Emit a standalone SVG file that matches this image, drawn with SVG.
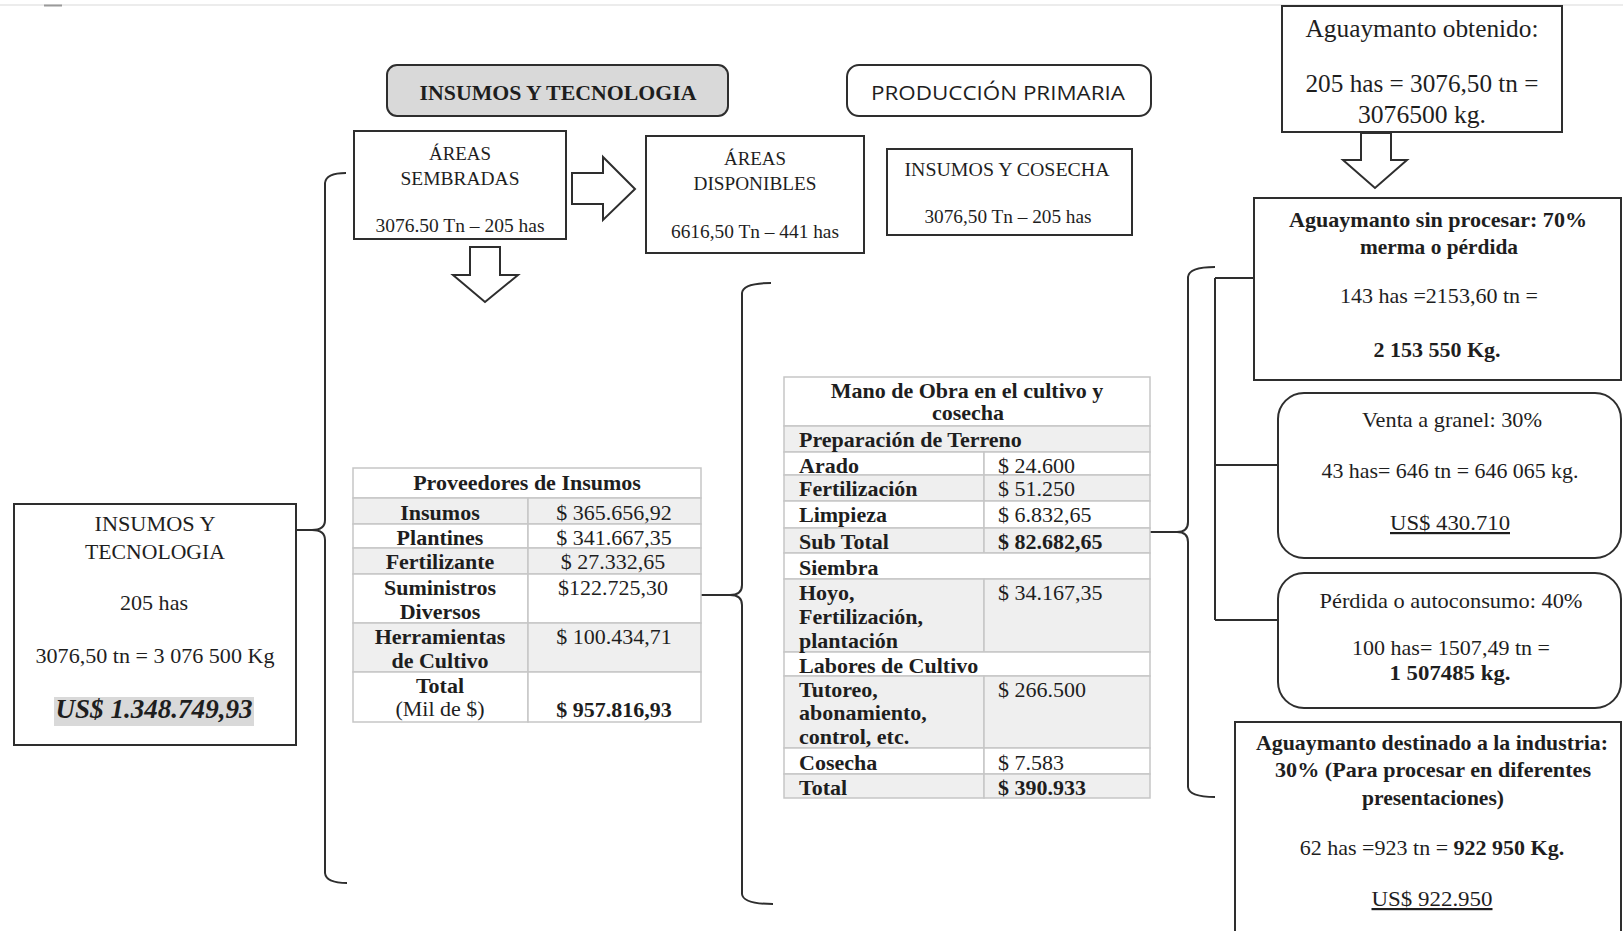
<svg xmlns="http://www.w3.org/2000/svg" width="1623" height="931" viewBox="0 0 1623 931">
<style>
.s{font-family:"Liberation Serif","Times New Roman",serif;fill:#1e1e1e;}
.b{font-weight:bold;}
.m{text-anchor:middle;}
.box{fill:#fff;stroke:#2e2e2e;stroke-width:2;}
.arr{fill:#fff;stroke:#2e2e2e;stroke-width:2;stroke-linejoin:miter;}
.ln{fill:none;stroke:#2e2e2e;stroke-width:2;}
.c{stroke:#c6c6c6;stroke-width:1.5;fill:#fff;}
.g{fill:#efefef;}
.u{text-decoration:underline;}
</style>
<rect x="0" y="0" width="1623" height="931" fill="#fff"/>
<line x1="0" y1="5" x2="1623" y2="5" stroke="#e6e6e6" stroke-width="1.5"/>
<line x1="44" y1="5.5" x2="62" y2="5.5" stroke="#9a9a9a" stroke-width="2"/>

<g id="connectors">
<path class="arr" d="M572,173 L603,173 L603,157 L635,189 L603,220 L603,204 L572,204 Z"/>
<path class="arr" d="M470,247 L500,247 L500,275 L518,275 L485,302 L453,275 L470,275 Z"/>
<path class="arr" d="M1361,133 L1391,133 L1391,160 L1407,160 L1375,188 L1343,160 L1361,160 Z"/>
<path class="ln" d="M346,173 Q326,173 325,183 L325,520 Q325,530 312,530 Q325,530 325,540 L325,873 Q326,883 347,883"/>
<path class="ln" d="M296,530 L312,530"/>
<path class="ln" d="M771,283 Q743,283 742,293 L742,585 Q742,595 730,595 Q742,595 742,605 L742,894 Q743,904 773,904"/>
<path class="ln" d="M701,595 L730,595"/>
<path class="ln" d="M1215,267 Q1189,267 1188,277 L1188,522 Q1188,532 1177,532 Q1188,532 1188,542 L1188,787 Q1189,797 1215,797"/>
<path class="ln" d="M1150,532 L1177,532"/>
<path class="ln" d="M1215,278 V620 M1215,278 H1254 M1215,465 H1278 M1215,620 H1278"/>
</g>

<g id="hdr-insumos">
<rect x="387" y="65" width="341" height="51" rx="10" fill="#d9d9d9" stroke="#2e2e2e" stroke-width="2"/>
<text class="s b m" x="558" y="100" font-size="20.5" textLength="277" lengthAdjust="spacingAndGlyphs">INSUMOS  Y  TECNOLOGIA</text>
</g>

<g id="hdr-produccion">
<rect class="box" x="847" y="65" width="304" height="51" rx="12"/>
<text class="m" x="998" y="100" font-family="'Open Sans','Noto Sans',sans-serif" font-size="20" fill="#1e1e1e" textLength="254" lengthAdjust="spacingAndGlyphs">PRODUCCIÓN PRIMARIA</text>
</g>

<g id="areas-sembradas">
<rect class="box" x="354" y="131" width="212" height="108"/>
<text class="s m" x="460" y="160" font-size="19.5" textLength="62" lengthAdjust="spacingAndGlyphs">ÁREAS</text>
<text class="s m" x="460" y="185" font-size="19.5" textLength="119" lengthAdjust="spacingAndGlyphs">SEMBRADAS</text>
<text class="s m" x="460" y="232" font-size="19.5" textLength="169" lengthAdjust="spacingAndGlyphs">3076.50 Tn – 205 has</text>
</g>

<g id="areas-disponibles">
<rect class="box" x="646" y="136" width="218" height="117"/>
<text class="s m" x="755" y="165" font-size="19.5" textLength="62" lengthAdjust="spacingAndGlyphs">ÁREAS</text>
<text class="s m" x="755" y="190" font-size="19.5" textLength="123" lengthAdjust="spacingAndGlyphs">DISPONIBLES</text>
<text class="s m" x="755" y="238" font-size="19.5" textLength="168" lengthAdjust="spacingAndGlyphs">6616,50 Tn – 441 has</text>
</g>

<g id="insumos-cosecha">
<rect class="box" x="887" y="149" width="245" height="86"/>
<text class="s m" x="1007" y="176" font-size="19.5" textLength="205" lengthAdjust="spacingAndGlyphs">INSUMOS Y COSECHA</text>
<text class="s m" x="1008" y="223" font-size="19.5" textLength="167" lengthAdjust="spacingAndGlyphs">3076,50 Tn – 205 has</text>
</g>

<g id="aguaymanto-obtenido">
<rect class="box" x="1282" y="6" width="280" height="126"/>
<text class="s m" x="1422" y="37" font-size="25" textLength="233" lengthAdjust="spacingAndGlyphs">Aguaymanto obtenido:</text>
<text class="s m" x="1422" y="92" font-size="25" textLength="233" lengthAdjust="spacingAndGlyphs">205 has = 3076,50 tn =</text>
<text class="s m" x="1422" y="123" font-size="25" textLength="128" lengthAdjust="spacingAndGlyphs">3076500 kg.</text>
</g>

<g id="sin-procesar">
<rect class="box" x="1254" y="198" width="367" height="182"/>
<text class="s b m" x="1438" y="227" font-size="21" textLength="298" lengthAdjust="spacingAndGlyphs">Aguaymanto sin procesar: 70%</text>
<text class="s b m" x="1439" y="254" font-size="21" textLength="158" lengthAdjust="spacingAndGlyphs">merma  o pérdida</text>
<text class="s m" x="1439" y="303" font-size="21" textLength="198" lengthAdjust="spacingAndGlyphs">143 has =2153,60 tn =</text>
<text class="s b m" x="1437" y="357" font-size="21" textLength="127" lengthAdjust="spacingAndGlyphs">2 153 550 Kg.</text>
</g>

<g id="venta-granel">
<rect class="box" x="1278" y="393" width="343" height="165" rx="26"/>
<text class="s m" x="1452" y="427" font-size="22" textLength="180" lengthAdjust="spacingAndGlyphs">Venta a granel: 30%</text>
<text class="s m" x="1450" y="478" font-size="22" textLength="257" lengthAdjust="spacingAndGlyphs">43 has= 646 tn = 646 065 kg.</text>
<text class="s m u" x="1450" y="530" font-size="22" textLength="120" lengthAdjust="spacingAndGlyphs">US$ 430.710</text>
</g>

<g id="perdida-autoconsumo">
<rect class="box" x="1278" y="573" width="343" height="135" rx="26"/>
<text class="s m" x="1451" y="608" font-size="22" textLength="263" lengthAdjust="spacingAndGlyphs">Pérdida o autoconsumo: 40%</text>
<text class="s m" x="1451" y="655" font-size="22" textLength="198" lengthAdjust="spacingAndGlyphs">100 has= 1507,49 tn =</text>
<text class="s b m" x="1450" y="680" font-size="22" textLength="121" lengthAdjust="spacingAndGlyphs">1 507485 kg.</text>
</g>

<g id="industria">
<rect class="box" x="1235" y="722" width="386" height="220"/>
<text class="s b m" x="1432" y="750" font-size="21" textLength="352" lengthAdjust="spacingAndGlyphs">Aguaymanto destinado  a la industria:</text>
<text class="s b m" x="1433" y="777" font-size="21" textLength="316" lengthAdjust="spacingAndGlyphs">30% (Para procesar en diferentes</text>
<text class="s b m" x="1433" y="805" font-size="21" textLength="142" lengthAdjust="spacingAndGlyphs">presentaciones)</text>
<text class="s m" x="1432" y="855" font-size="22">62 has =923 tn = <tspan class="b">922 950 Kg.</tspan></text>
<text class="s m u" x="1432" y="906" font-size="22" textLength="121" lengthAdjust="spacingAndGlyphs">US$ 922.950</text>
</g>

<g id="insumos-tecnologia">
<rect class="box" x="14" y="504" width="282" height="241"/>
<text class="s m" x="155" y="531" font-size="22" textLength="121" lengthAdjust="spacingAndGlyphs">INSUMOS  Y</text>
<text class="s m" x="155" y="559" font-size="22" textLength="140" lengthAdjust="spacingAndGlyphs">TECNOLOGIA</text>
<text class="s m" x="154" y="610" font-size="22" textLength="68" lengthAdjust="spacingAndGlyphs">205 has</text>
<text class="s m" x="155" y="663" font-size="22" textLength="239" lengthAdjust="spacingAndGlyphs">3076,50 tn = 3 076 500 Kg</text>
<rect x="54" y="697" width="200" height="29" fill="#d9d9d9"/>
<text class="s b m" x="154" y="718" font-size="27" font-style="italic" textLength="197" lengthAdjust="spacingAndGlyphs">US$ 1.348.749,93</text>
</g>

<g id="tabla-proveedores">
<rect class="c" x="353" y="468" width="348" height="30"/>
<rect class="c g" x="353" y="498" width="175" height="26"/><rect class="c g" x="528" y="498" width="173" height="26"/>
<rect class="c" x="353" y="524" width="175" height="24"/><rect class="c" x="528" y="524" width="173" height="24"/>
<rect class="c g" x="353" y="548" width="175" height="26"/><rect class="c g" x="528" y="548" width="173" height="26"/>
<rect class="c" x="353" y="574" width="175" height="49"/><rect class="c" x="528" y="574" width="173" height="49"/>
<rect class="c g" x="353" y="623" width="175" height="49"/><rect class="c g" x="528" y="623" width="173" height="49"/>
<rect class="c" x="353" y="672" width="175" height="50"/><rect class="c" x="528" y="672" width="173" height="50"/>
<text class="s b m" x="527" y="490" font-size="22">Proveedores de Insumos</text>
<text class="s b m" x="440" y="520" font-size="22">Insumos</text>
<text class="s m" x="614" y="520" font-size="22">$ 365.656,92</text>
<text class="s b m" x="440" y="545" font-size="22">Plantines</text>
<text class="s m" x="614" y="545" font-size="22">$ 341.667,35</text>
<text class="s b m" x="440" y="569" font-size="22">Fertilizante</text>
<text class="s m" x="613" y="569" font-size="22">$ 27.332,65</text>
<text class="s b m" x="440" y="595" font-size="22">Suministros</text>
<text class="s b m" x="440" y="619" font-size="22">Diversos</text>
<text class="s m" x="613" y="595" font-size="22">$122.725,30</text>
<text class="s b m" x="440" y="644" font-size="22">Herramientas</text>
<text class="s b m" x="440" y="668" font-size="22">de Cultivo</text>
<text class="s m" x="614" y="644" font-size="22">$ 100.434,71</text>
<text class="s b m" x="440" y="693" font-size="22">Total</text>
<text class="s m" x="440" y="716" font-size="22">(Mil de $)</text>
<text class="s b m" x="614" y="717" font-size="22">$ 957.816,93</text>
</g>

<g id="tabla-mano-obra">
<rect class="c" x="784" y="377" width="366" height="49"/>
<rect class="c g" x="784" y="426" width="366" height="26"/>
<rect class="c" x="784" y="452" width="200" height="23"/><rect class="c" x="984" y="452" width="166" height="23"/>
<rect class="c g" x="784" y="475" width="200" height="26"/><rect class="c g" x="984" y="475" width="166" height="26"/>
<rect class="c" x="784" y="501" width="200" height="27"/><rect class="c" x="984" y="501" width="166" height="27"/>
<rect class="c g" x="784" y="528" width="200" height="25"/><rect class="c g" x="984" y="528" width="166" height="25"/>
<rect class="c" x="784" y="553" width="366" height="26"/>
<rect class="c g" x="784" y="579" width="200" height="73"/><rect class="c g" x="984" y="579" width="166" height="73"/>
<rect class="c" x="784" y="652" width="366" height="24"/>
<rect class="c g" x="784" y="676" width="200" height="72"/><rect class="c g" x="984" y="676" width="166" height="72"/>
<rect class="c" x="784" y="748" width="200" height="26"/><rect class="c" x="984" y="748" width="166" height="26"/>
<rect class="c g" x="784" y="774" width="200" height="24"/><rect class="c g" x="984" y="774" width="166" height="24"/>
<text class="s b m" x="967" y="398" font-size="22">Mano de Obra en el cultivo y</text>
<text class="s b m" x="968" y="420" font-size="22">cosecha</text>
<text class="s b" x="799" y="447" font-size="22">Preparación de Terreno</text>
<text class="s b" x="799" y="473" font-size="22">Arado</text>
<text class="s" x="998" y="473" font-size="22">$ 24.600</text>
<text class="s b" x="799" y="496" font-size="22">Fertilización</text>
<text class="s" x="998" y="496" font-size="22">$ 51.250</text>
<text class="s b" x="799" y="522" font-size="22">Limpieza</text>
<text class="s" x="998" y="522" font-size="22">$ 6.832,65</text>
<text class="s b" x="799" y="549" font-size="22">Sub Total</text>
<text class="s b" x="998" y="549" font-size="22">$ 82.682,65</text>
<text class="s b" x="799" y="575" font-size="22">Siembra</text>
<text class="s b" x="799" y="600" font-size="22">Hoyo,</text>
<text class="s b" x="799" y="624" font-size="22">Fertilización,</text>
<text class="s b" x="799" y="648" font-size="22">plantación</text>
<text class="s" x="998" y="600" font-size="22">$ 34.167,35</text>
<text class="s b" x="799" y="673" font-size="22">Labores de Cultivo</text>
<text class="s b" x="799" y="697" font-size="22">Tutoreo,</text>
<text class="s b" x="799" y="720" font-size="22">abonamiento,</text>
<text class="s b" x="799" y="744" font-size="22">control, etc.</text>
<text class="s" x="998" y="697" font-size="22">$ 266.500</text>
<text class="s b" x="799" y="770" font-size="22">Cosecha</text>
<text class="s" x="998" y="770" font-size="22">$ 7.583</text>
<text class="s b" x="799" y="795" font-size="22">Total</text>
<text class="s b" x="998" y="795" font-size="22">$ 390.933</text>
</g>
</svg>
